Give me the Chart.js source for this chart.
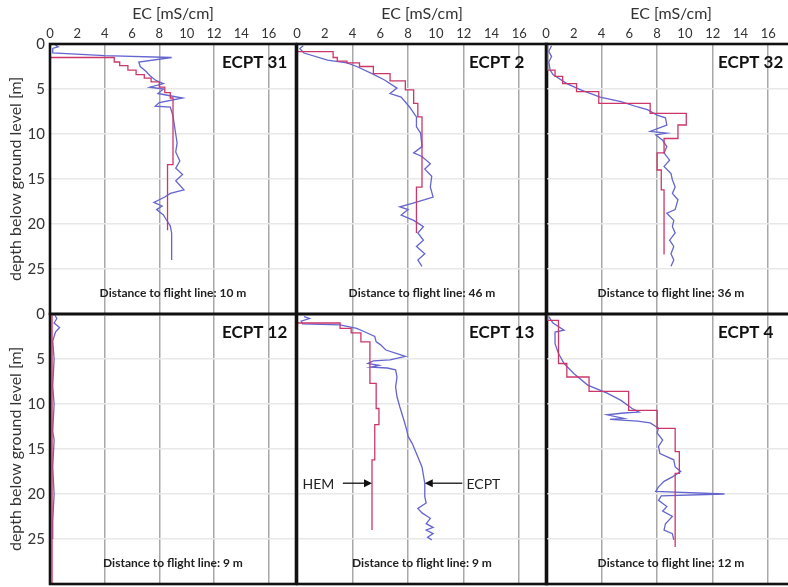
<!DOCTYPE html>
<html>
<head>
<meta charset="utf-8">
<script src="https://cdn.jsdelivr.net/npm/chart.js@4.4.1/dist/chart.umd.min.js"></script>
<style>
    html, body { margin: 0; padding: 0; background: #fff; overflow: hidden; width: 788px; height: 587px; }
    canvas { position: absolute; }
</style>
</head>
<body>
<canvas id="p0"></canvas>
<canvas id="p1"></canvas>
<canvas id="p2"></canvas>
<canvas id="p3"></canvas>
<canvas id="p4"></canvas>
<canvas id="p5"></canvas>
<script>
// panel titles and distance notes, top row then bottom row
const panelNames = ['ECPT 31', 'ECPT 2', 'ECPT 32', 'ECPT 12', 'ECPT 13', 'ECPT 4'];
const distances = ['10 m', '46 m', '36 m', '9 m', '9 m', '12 m'];

const ecTicks = [0, 2, 4, 6, 8, 10, 12, 14, 16];
const depthTicks = [0, 5, 10, 15, 20, 25];

// [EC mS/cm, depth m]
const ecpt31Ecpt = [[0.3,0],[0.6,0.3],[0.2,0.5],[0.2,1.0],[4,1.3],[8.9,1.5],[6.5,2.0],[6.6,2.5],[7.0,3.0],[7.3,3.5],[7.7,4.0],[8.3,4.4],[7.3,4.8],[8.3,5.0],[7.9,5.5],[9.7,6.0],[8.0,6.5],[7.7,6.9],[8.8,7.0],[9.0,8],[9.1,9],[9.2,10],[9.3,11],[9.2,12],[9.5,13],[9.2,13.8],[9.7,14.5],[9.2,15.2],[9.8,16.2],[8.8,16.6],[8.4,17.0],[7.6,17.6],[8.2,18.0],[7.8,18.4],[8.3,19.0],[8.5,19.5],[8.8,20.2],[8.9,21],[8.9,22],[8.9,23],[8.9,24.0]];
const ecpt31Hem = [[0,0],[0,1.5],[4.7,1.5],[4.7,2.0],[5.1,2.0],[5.1,2.4],[5.7,2.4],[5.7,2.9],[6.3,2.9],[6.3,3.4],[6.9,3.4],[6.9,3.8],[7.4,3.8],[7.4,4.2],[8.0,4.2],[8.0,4.8],[8.4,4.8],[8.4,5.4],[8.8,5.4],[8.8,6.0],[9.0,6.0],[9.0,13.4],[8.6,13.4],[8.6,20.7]];

const ecpt2Ecpt = [[0.45,0.2],[0.2,0.5],[0.5,1.0],[2.2,1.8],[3.6,2.1],[4.3,2.5],[5.4,3.3],[6.3,4.0],[7.2,4.9],[6.7,5.5],[7.5,5.9],[8.1,7.0],[8.6,8.1],[8.6,9.2],[8.9,9.9],[9.0,11.4],[8.4,12.1],[9.0,12.5],[9.6,13.3],[9.2,13.9],[9.7,14.7],[9.6,15.9],[9.8,17.0],[9.2,17.3],[8.3,17.7],[7.4,18.1],[8.0,18.4],[7.5,19.0],[8.4,19.6],[9.1,20.3],[8.7,21.0],[9.1,21.8],[8.6,22.5],[9.2,23.3],[8.7,24.0],[9.0,24.7]];
const ecpt2Hem = [[0,0],[0,0.85],[2.6,0.85],[2.6,1.5],[2.9,1.5],[2.9,1.9],[3.6,1.9],[3.6,2.1],[4.5,2.1],[4.5,2.5],[5.5,2.5],[5.5,3.3],[6.7,3.3],[6.7,4.1],[7.8,4.1],[7.8,5.1],[8.4,5.1],[8.4,6.6],[8.7,6.6],[8.7,8.1],[9.0,8.1],[9.0,15.9],[8.6,15.9],[8.6,21.0]];

const ecpt32Ecpt = [[0.4,0.2],[0.2,0.8],[0.4,1.4],[0.2,2.0],[0.3,2.9],[0.5,3.4],[1.5,4.4],[2.5,5.1],[3.9,5.9],[5.4,6.4],[6.6,7.0],[7.3,7.3],[8.0,7.9],[8.6,8.2],[8.7,9.0],[7.5,9.7],[8.7,9.9],[7.9,10.1],[8.4,10.7],[8.7,11.4],[8.5,12.1],[8.9,12.9],[8.5,13.6],[9.0,14.4],[9.1,15.1],[9.3,15.9],[9.1,16.6],[9.5,17.3],[9.3,18.4],[8.7,18.8],[9.2,19.6],[9.1,20.3],[9.3,21.0],[8.9,21.8],[9.2,22.5],[9.0,23.3],[9.2,24.0],[9.0,24.7]];
const ecpt32Hem = [[0.1,0],[0.1,2.9],[0.65,2.9],[0.65,3.6],[1.2,3.6],[1.2,4.4],[2.2,4.4],[2.2,5.3],[3.8,5.3],[3.8,6.6],[7.5,6.6],[7.5,7.7],[10.1,7.7],[10.1,9.0],[9.5,9.0],[9.5,10.5],[8.5,10.5],[8.5,12.1],[8.0,12.1],[8.0,14.0],[8.3,14.0],[8.3,16.2],[8.5,16.2],[8.5,23.4]];

const ecpt12Ecpt = [[0.3,0],[0.5,0.5],[0.3,1],[0.7,1.5],[0.4,2],[0.2,3],[0.3,5],[0.2,8],[0.3,10],[0.2,13],[0.3,14],[0.2,17],[0.3,20],[0.2,23],[0.2,25]];
const ecpt12Hem = [[0.15,0],[0.15,30]];

const ecpt13Ecpt = [[0.5,0.3],[0.9,0.5],[0.3,0.8],[0.4,1.1],[3.1,1.2],[4.3,1.6],[4.9,2.0],[5.6,2.5],[5.7,3.1],[6.0,3.4],[6.4,4.0],[7.2,4.4],[7.8,4.7],[6.7,5.1],[5.5,5.2],[5.1,5.5],[5.9,5.7],[5.3,5.9],[6.5,6.0],[7.1,6.2],[7.2,7.0],[7.1,8.1],[7.2,9.2],[7.4,10.3],[7.7,11.8],[7.9,12.9],[8.0,13.6],[8.3,14.4],[8.6,15.5],[9.0,17.0],[9.2,18.8],[9.2,20.3],[9.3,21.0],[8.7,21.6],[9.0,22.1],[9.6,22.7],[9.3,23.3],[9.8,23.7],[9.3,24.0],[9.8,24.4],[9.4,24.8],[9.7,25.1]];
const ecpt13Hem = [[0,0],[0,1.0],[3.1,1.0],[3.1,1.6],[3.9,1.6],[3.9,2.1],[4.6,2.1],[4.6,3.1],[5.25,3.1],[5.25,7.7],[5.7,7.7],[5.7,10.5],[5.9,10.5],[5.9,12.3],[5.6,12.3],[5.6,16.2],[5.4,16.2],[5.4,24.0]];

const ecpt4Ecpt = [[0.2,0.3],[0.5,1.0],[1.3,1.8],[0.65,2.0],[0.65,3.3],[0.9,4.4],[1.3,5.5],[2.0,6.6],[3.0,7.9],[4.4,8.8],[5.4,9.6],[6.2,10.5],[6.7,10.9],[5.6,11.0],[4.4,11.2],[5.6,11.6],[4.6,11.7],[6.6,11.9],[7.5,12.1],[8.1,12.7],[8.0,13.2],[8.4,14.0],[8.1,14.7],[8.2,15.5],[9.2,16.2],[9.3,17.0],[9.7,17.5],[9.1,18.1],[8.5,18.6],[8.1,19.2],[7.9,19.7],[12.85,20.0],[8.3,20.2],[8.1,20.7],[8.7,21.4],[8.4,21.9],[9.1,22.5],[8.6,23.3],[8.5,24.0],[9.1,24.4],[9.2,25.1]];
const ecpt4Hem = [[0.1,0],[0.1,0.7],[0.9,0.7],[0.9,5.5],[1.5,5.5],[1.5,7.0],[3.1,7.0],[3.1,8.6],[5.95,8.6],[5.95,10.7],[8.0,10.7],[8.0,12.7],[9.3,12.7],[9.3,15.3],[9.6,15.3],[9.6,17.7],[9.3,17.7],[9.3,25.9]];

const ecptSeries = [ecpt31Ecpt, ecpt2Ecpt, ecpt32Ecpt, ecpt12Ecpt, ecpt13Ecpt, ecpt4Ecpt];
const hemSeries = [ecpt31Hem, ecpt2Hem, ecpt32Hem, ecpt12Hem, ecpt13Hem, ecpt4Hem];

// labelled arrows in the ECPT 13 panel (data units)
const arrowNotes = [
    { text: 'HEM', textEc: 0.4, fromEc: 3.3, toEc: 5.4, depth: 18.8 },
    { text: 'ECPT', textEc: 12.2, fromEc: 11.9, toEc: 9.2, depth: 18.8 }
];

const FONT = 'Lato, "Open Sans", sans-serif';
const BLUE = '#6465cf';
const RED = '#cc3768';

// page layout
const colLeft = [50, 297, 546];
const colWidth = [246, 250, 250];
const rowTop = [44, 314];
const plotH = 270;
const M = 20; // spare canvas margin on unlabelled sides

const panelDecor = {
    id: 'panelDecor',
    afterDraw(chart, args, opts) {
        const { ctx, chartArea: a, scales: { x, y } } = chart;
        ctx.save();
        ctx.strokeStyle = '#111';
        ctx.lineWidth = 2.6;
        ctx.strokeRect(a.left, a.top, a.right - a.left, a.bottom - a.top);

        ctx.fillStyle = '#111';
        ctx.font = `bold 17px ${FONT}`;
        ctx.textAlign = 'left';
        ctx.textBaseline = 'middle';
        ctx.fillText(opts.name, a.left + 172, a.top + 19);

        ctx.fillStyle = '#222';
        ctx.font = `bold 12px ${FONT}`;
        ctx.textAlign = 'center';
        ctx.fillText('Distance to flight line: ' + opts.dist, (a.left + a.right) / 2, a.bottom - 21);

        (opts.arrows || []).forEach(n => {
            const yp = y.getPixelForValue(n.depth);
            const x1 = x.getPixelForValue(n.fromEc);
            const x2 = x.getPixelForValue(n.toEc);
            const dir = Math.sign(x2 - x1);
            ctx.strokeStyle = '#111';
            ctx.fillStyle = '#111';
            ctx.lineWidth = 1.3;
            ctx.beginPath();
            ctx.moveTo(x1, yp);
            ctx.lineTo(x2 - dir * 7, yp);
            ctx.stroke();
            ctx.beginPath();
            ctx.moveTo(x2, yp);
            ctx.lineTo(x2 - dir * 8, yp - 4);
            ctx.lineTo(x2 - dir * 8, yp + 4);
            ctx.closePath();
            ctx.fill();
            ctx.font = `14px ${FONT}`;
            ctx.textAlign = 'left';
            ctx.fillStyle = '#222';
            ctx.fillText(n.text, x.getPixelForValue(n.textEc), yp + 1);
        });
        ctx.restore();
    }
};
Chart.register(panelDecor);

function makeChart(i) {
    const row = Math.floor(i / 3), col = i % 3;
    const showX = row === 0, showY = col === 0;
    const canvas = document.getElementById('p' + i);
    const left = showY ? 0 : colLeft[col] - M;
    const top = showX ? 0 : rowTop[row] - M;
    const w = colLeft[col] + colWidth[col] + M - left;
    const h = rowTop[row] + plotH + M - top;
    canvas.width = w; canvas.height = h;
    canvas.style.left = left + 'px'; canvas.style.top = top + 'px';
    canvas.style.width = w + 'px'; canvas.style.height = h + 'px';

    const toXY = arr => arr.map(([ec, d]) => ({ x: ec, y: d }));

    new Chart(canvas, {
        type: 'scatter',
        data: {
            datasets: [
                { label: 'HEM', data: toXY(hemSeries[i]), borderColor: RED, borderWidth: 1.3, pointRadius: 0, showLine: true, tension: 0 },
                { label: 'ECPT', data: toXY(ecptSeries[i]), borderColor: BLUE, borderWidth: 1.3, pointRadius: 0, showLine: true, tension: 0 }
            ]
        },
        options: {
            responsive: false,
            animation: false,
            events: [],
            layout: { padding: { left: showY ? 0 : M, right: M, top: showX ? 0 : M, bottom: M } },
            plugins: {
                legend: { display: false },
                tooltip: { enabled: false },
                panelDecor: { name: panelNames[i], dist: distances[i], arrows: i === 4 ? arrowNotes : [] }
            },
            scales: {
                x: {
                    type: 'linear', position: 'top', min: 0, max: 18,
                    afterBuildTicks: s => { s.ticks = ecTicks.concat([18]).map(v => ({ value: v })); },
                    ticks: {
                        display: showX, padding: 2, autoSkip: false, maxRotation: 0, color: '#333',
                        font: { family: FONT, size: 13 },
                        callback: v => ecTicks.includes(v) ? String(v) : ''
                    },
                    grid: {
                        drawTicks: false, lineWidth: 1.5,
                        color: c => (c.tick && c.tick.value % 4 === 0 && c.tick.value > 0 && c.tick.value < 18) ? '#a8a8a8' : 'rgba(0,0,0,0)'
                    },
                    border: { display: false },
                    title: { display: showX, text: 'EC [mS/cm]', color: '#333', font: { family: FONT, size: 16 }, padding: { top: 4, bottom: 0 } },
                    afterFit: s => { s.height = showX ? 44 : 0; }
                },
                y: {
                    type: 'linear', position: 'left', reverse: true, min: 0, max: 30,
                    afterBuildTicks: s => { s.ticks = depthTicks.concat([30]).map(v => ({ value: v })); },
                    ticks: {
                        display: showY, padding: 5, color: '#333',
                        font: { family: FONT, size: 15 },
                        callback: v => depthTicks.includes(v) ? String(v) : ''
                    },
                    grid: {
                        drawTicks: false, lineWidth: 1.5,
                        color: c => (c.tick && c.tick.value > 0 && c.tick.value < 30) ? '#e8e8e8' : 'rgba(0,0,0,0)'
                    },
                    border: { display: false },
                    title: { display: showY, text: 'depth below ground level [m]', color: '#333', font: { family: FONT, size: 16 }, padding: { top: 6, bottom: 0 } },
                    afterFit: s => { s.width = showY ? 50 : 0; }
                }
            }
        }
    });
}

for (let i = 0; i < 6; i++) makeChart(i);
</script>
</body>
</html>
